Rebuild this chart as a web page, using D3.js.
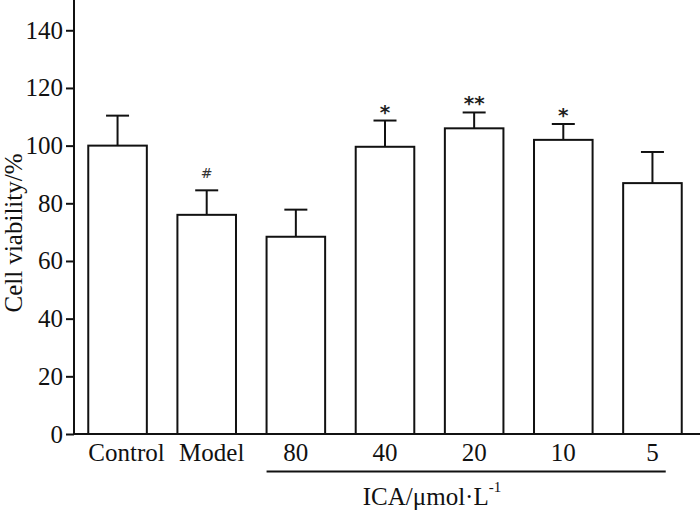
<!DOCTYPE html>
<html>
<head>
<meta charset="utf-8">
<script src="https://cdn.jsdelivr.net/npm/d3@7"></script>
<style>
  body { margin: 0; background: #fff; }
  svg text { font-family: "Liberation Serif", "Times New Roman", Times, serif; }
</style>
</head>
<body>
<svg width="700" height="511"></svg>
<script>
// data
var groups = ["Control", "Model", "80", "40", "20", "10", "5"];
var viability = [100, 76, 68.4, 99.6, 106, 102, 87];
var sdUpper = [10.4, 8.5, 9.4, 9.1, 5.5, 5.5, 10.8];
var marks = ["", "#", "", "*", "**", "*", ""];
var yTicks = [0, 20, 40, 60, 80, 100, 120, 140];

var svg = d3.select("svg");
var margin = { left: 74 };
var baseY = 434;
var fontSize = "25px";

var yScale = d3.scaleLinear()
  .domain([0, 150.5])
  .range([baseY, 0]);

var xScale = d3.scaleBand()
  .domain(groups)
  .range([margin.left, 696])
  .paddingInner(0.343)
  .paddingOuter(0.16);

var plot = svg.append("g").attr("id", "plot");

// bars
plot.selectAll("rect.bar")
  .data(groups)
  .enter().append("rect")
  .attr("class", "bar")
  .attr("x", function(d) { return xScale(d); })
  .attr("y", function(d, i) { return yScale(viability[i]); })
  .attr("width", xScale.bandwidth())
  .attr("height", function(d, i) { return baseY - yScale(viability[i]); })
  .attr("fill", "#fff")
  .attr("stroke", "#111")
  .attr("stroke-width", 2);

// error bars (upper half only)
var capW = 23;
var err = plot.selectAll("g.err")
  .data(groups)
  .enter().append("g")
  .attr("class", "err")
  .attr("stroke", "#111")
  .attr("stroke-width", 2);

err.append("line")
  .attr("x1", function(d) { return xScale(d) + xScale.bandwidth() / 2; })
  .attr("x2", function(d) { return xScale(d) + xScale.bandwidth() / 2; })
  .attr("y1", function(d, i) { return yScale(viability[i]); })
  .attr("y2", function(d, i) { return yScale(viability[i] + sdUpper[i]); });

err.append("line")
  .attr("x1", function(d) { return xScale(d) + xScale.bandwidth() / 2 - capW / 2; })
  .attr("x2", function(d) { return xScale(d) + xScale.bandwidth() / 2 + capW / 2; })
  .attr("y1", function(d, i) { return yScale(viability[i] + sdUpper[i]); })
  .attr("y2", function(d, i) { return yScale(viability[i] + sdUpper[i]); });

// significance marks
plot.selectAll("text.mark")
  .data(groups)
  .enter().append("text")
  .attr("class", "mark")
  .attr("x", function(d) { return xScale(d) + xScale.bandwidth() / 2; })
  .attr("y", function(d, i) {
    var top = yScale(viability[i] + sdUpper[i]);
    return marks[i] === "#" ? top - 12 : top - 2;
  })
  .attr("text-anchor", "middle")
  .style("font-family", "'DejaVu Sans', sans-serif")
  .style("font-size", function(d, i) { return marks[i] === "#" ? "14px" : "20px"; })
  .style("font-weight", function(d, i) { return marks[i] === "#" ? "normal" : "bold"; })
  .attr("fill", function(d, i) { return marks[i] === "#" ? "#333" : "#222"; })
  .text(function(d, i) { return marks[i]; });

// axes
var yAxis = d3.axisLeft(yScale)
  .tickValues(yTicks)
  .tickSize(8)
  .tickPadding(3);

var yGroup = plot.append("g")
  .attr("id", "y-axis")
  .attr("transform", "translate(" + margin.left + ",0)")
  .call(yAxis);
yGroup.attr("font-family", null).attr("font-size", null);
yGroup.select(".domain").attr("d", "M0,0V" + baseY).attr("stroke", "#111").attr("stroke-width", 2);
yGroup.selectAll(".tick line").attr("stroke", "#111").attr("stroke-width", 2);
yGroup.selectAll(".tick text")
  .style("font-size", fontSize)
  .attr("fill", "#111");

var xAxis = d3.axisBottom(xScale).tickSize(0).tickPadding(9);
var xGroup = plot.append("g")
  .attr("id", "x-axis")
  .attr("transform", "translate(0," + baseY + ")")
  .call(xAxis);
xGroup.attr("font-family", null).attr("font-size", null);
xGroup.select(".domain").attr("d", "M" + margin.left + ",0H700").attr("stroke", "#111").attr("stroke-width", 2);
xGroup.selectAll(".tick text")
  .style("font-size", fontSize)
  .attr("fill", "#111")
  .attr("dx", function(d) { return d === "Control" ? 9 : (d === "Model" ? 5 : 0); });

// bracket line under the ICA doses
var first = xScale("80"), last = xScale("5") + xScale.bandwidth();
plot.append("line")
  .attr("x1", first)
  .attr("x2", last - 16)
  .attr("y1", 471.5)
  .attr("y2", 471.5)
  .attr("stroke", "#111")
  .attr("stroke-width", 2);

var icaLabel = plot.append("text")
  .attr("x", 432)
  .attr("y", 505)
  .attr("text-anchor", "middle")
  .style("font-size", fontSize)
  .attr("fill", "#111");
icaLabel.append("tspan").text("ICA/\u03bcmol\u00b7L");
icaLabel.append("tspan").attr("dy", -13).style("font-size", "15px").text("-1");

// y axis title
plot.append("text")
  .attr("text-anchor", "middle")
  .style("font-size", fontSize)
  .attr("fill", "#111")
  .attr("transform", "translate(22,233) rotate(270)")
  .text("Cell viability/%");
</script>
</body>
</html>
